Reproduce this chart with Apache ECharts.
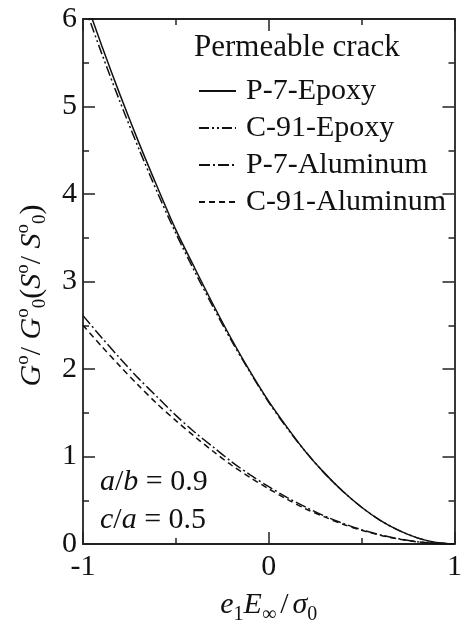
<!DOCTYPE html>
<html>
<head>
<meta charset="utf-8">
<script src="https://cdn.jsdelivr.net/npm/echarts@6/dist/echarts.min.js"></script>
<style>
  html, body { margin: 0; padding: 0; background: #fff; }
  #chart { width: 465px; height: 630px; }
</style>
</head>
<body>
<div id="chart"></div>
<script>
// e1 E_inf / sigma_0
var xs = [-1, -0.9, -0.8, -0.7, -0.6, -0.5, -0.4, -0.3, -0.2, -0.1, 0,
          0.1, 0.2, 0.3, 0.4, 0.5, 0.6, 0.7, 0.8, 0.9, 1];

var p7Epoxy   = [6.30, 5.70, 5.13, 4.59, 4.08, 3.59, 3.16, 2.74, 2.34, 1.97, 1.63,
                 1.33, 1.05, 0.81, 0.60, 0.42, 0.27, 0.155, 0.07, 0.018, 0];
var c91Epoxy  = [6.20, 5.61, 5.05, 4.52, 4.02, 3.55, 3.12, 2.71, 2.32, 1.96, 1.62,
                 1.32, 1.05, 0.81, 0.60, 0.42, 0.27, 0.155, 0.07, 0.018, 0];
var p7Alum    = [2.61, 2.36, 2.12, 1.89, 1.68, 1.47, 1.28, 1.11, 0.94, 0.79, 0.655,
                 0.53, 0.42, 0.32, 0.236, 0.164, 0.105, 0.059, 0.026, 0.007, 0];
var c91Alum   = [2.50, 2.26, 2.03, 1.81, 1.60, 1.41, 1.23, 1.06, 0.90, 0.76, 0.63,
                 0.51, 0.40, 0.31, 0.225, 0.157, 0.10, 0.056, 0.025, 0.006, 0];

var seriesNames = ['P-7-Epoxy', 'C-91-Epoxy', 'P-7-Aluminum', 'C-91-Aluminum'];
var xTicks = {'-1': '-1', '0': '0', '1': '1'};

var FONT = 'Liberation Serif';

function pairs(vals) {
    return xs.map(function (x, i) { return [x, vals[i]]; });
}

function curve(name, vals, dash) {
    return {
        name: name,
        type: 'line',
        data: pairs(vals),
        symbol: 'none',
        smooth: 0.3,
        clip: true,
        color: '#111',
        itemStyle: {color: '#111'},
        lineStyle: {color: '#111', width: 1.5, type: dash}
    };
}

var axisCommon = {
    axisLine: {onZero: false, lineStyle: {color: '#222', width: 1.8}},
    axisTick: {inside: true, length: 12, lineStyle: {color: '#222', width: 1.5}},
    minorTick: {show: true, splitNumber: 2, length: 6, lineStyle: {color: '#222', width: 1.5}},
    splitLine: {show: false}
};

var myChart = echarts.init(document.getElementById('chart'));

var option = {
    backgroundColor: '#fff',
    animation: false,
    grid: {left: 83, right: 5, top: 19, bottom: 81},
    title: {
        text: 'Permeable crack',
        left: 189, top: 27,
        textStyle: {fontFamily: FONT, fontSize: 31, fontWeight: 'normal', color: '#111'}
    },
    legend: {
        data: seriesNames,
        orient: 'vertical',
        left: 193, top: 71,
        itemWidth: 37, itemHeight: 14, itemGap: 7,
        itemStyle: {opacity: 0},
        textStyle: {fontFamily: FONT, fontSize: 30, lineHeight: 30, color: '#111', padding: [0, 0, 0, 5]}
    },
    xAxis: [
        Object.assign({
            type: 'value', min: -1, max: 1, interval: 1,
            name: '{i|e}{s|1}{i|E}{s|∞}{n|/}{i|σ}{s|0}',
            nameLocation: 'middle', nameGap: 41,
            nameTextStyle: {
                color: '#111',
                rich: {
                    i: {fontFamily: FONT, fontStyle: 'italic', fontSize: 30, color: '#111'},
                    n: {fontFamily: FONT, fontSize: 30, color: '#111', padding: [0, 4, 0, 4]},
                    s: {fontFamily: FONT, fontSize: 20, color: '#111', verticalAlign: 'bottom', lineHeight: 40}
                }
            },
            axisLabel: {
                fontFamily: FONT, fontSize: 30, color: '#111', margin: 8,
                formatter: function (v) { return xTicks[String(v)]; }
            }
        }, axisCommon),
        Object.assign({
            type: 'value', min: -1, max: 1, interval: 1, position: 'top',
            axisLabel: {show: false}
        }, axisCommon)
    ],
    yAxis: [
        Object.assign({
            type: 'value', min: 0, max: 6, interval: 1,
            name: '{i|G}{sp|o}{n|/ }{i|G}{sp|o}{sb|0}{n|(}{i|S}{sp|o}{n|/ }{i|S}{sp|o}{sb|0}{n|)}',
            nameLocation: 'middle', nameGap: 33, nameRotate: 90,
            nameTextStyle: {
                color: '#111',
                padding: [0, 28, 0, 0],
                rich: {
                    i: {fontFamily: FONT, fontStyle: 'italic', fontSize: 30, color: '#111', lineHeight: 36},
                    n: {fontFamily: FONT, fontSize: 30, color: '#111', lineHeight: 36},
                    sp: {fontFamily: FONT, fontSize: 19, color: '#111', verticalAlign: 'top', lineHeight: 32},
                    sb: {fontFamily: FONT, fontSize: 19, color: '#111', verticalAlign: 'bottom', lineHeight: 32}
                }
            },
            axisLabel: {fontFamily: FONT, fontSize: 30, color: '#111', margin: 6}
        }, axisCommon),
        Object.assign({
            type: 'value', min: 0, max: 6, interval: 1, position: 'right',
            axisLabel: {show: false}
        }, axisCommon)
    ],
    graphic: [
        {
            type: 'text', left: 100, top: 467,
            style: {
                text: '{i|a}/{i|b} = 0.9',
                fill: '#111',
                font: '30px "Liberation Serif"',
                rich: {i: {fontFamily: FONT, fontStyle: 'italic', fontSize: 30}}
            }
        },
        {
            type: 'text', left: 100, top: 505,
            style: {
                text: '{i|c}/{i|a} = 0.5',
                fill: '#111',
                font: '30px "Liberation Serif"',
                rich: {i: {fontFamily: FONT, fontStyle: 'italic', fontSize: 30}}
            }
        }
    ],
    series: [
        curve(seriesNames[0], p7Epoxy, 'solid'),
        curve(seriesNames[1], c91Epoxy, [10, 3, 2, 3, 2, 3]),
        curve(seriesNames[2], p7Alum, [11, 3, 2, 3]),
        curve(seriesNames[3], c91Alum, [6, 4])
    ]
};

myChart.setOption(option);
</script>
</body>
</html>
